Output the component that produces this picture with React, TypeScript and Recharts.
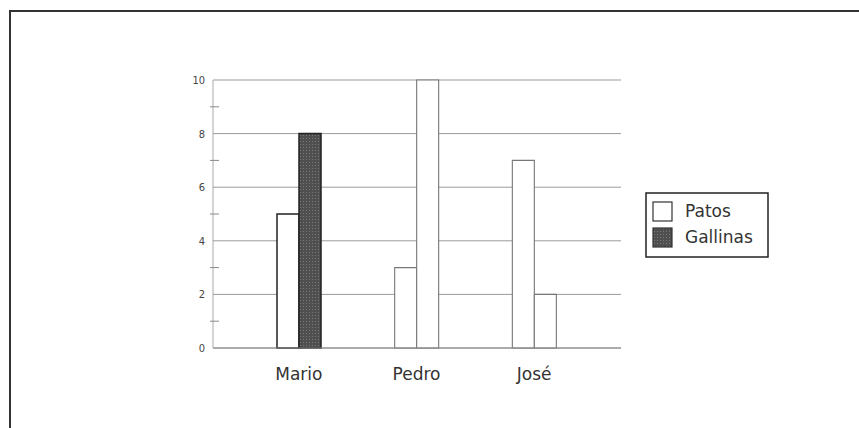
import { BarChart, Bar, XAxis, YAxis, CartesianGrid, Legend, Cell } from 'recharts';

const categories = ['Mario', 'Pedro', 'José'];
const patos = [5, 3, 7];
const gallinas = [8, 10, 2];
const yTicks = [0, 1, 2, 3, 4, 5, 6, 7, 8, 9, 10];
const gridValues = [0, 2, 4, 6, 8, 10];

const data = categories.map((name, i) => ({ name, patos: patos[i], gallinas: gallinas[i] }));

const font = "'DejaVu Sans', sans-serif";

function YTick(props: any) {
  const { x, y, payload } = props;
  const v = payload.value as number;
  if (v % 2 === 1) {
    return <line x1={x + 3} x2={x + 12} y1={y} y2={y} stroke="#888" strokeWidth={1} />;
  }
  return (
    <text
      x={x - 2}
      y={y}
      dy={4}
      textAnchor="end"
      fontSize={11}
      fill="#444"
      fontFamily="'Liberation Sans Narrow', 'DejaVu Sans Condensed', sans-serif"
    >
      {v}
    </text>
  );
}

function LegendBox() {
  const items = [
    { label: 'Patos', fill: '#fff' },
    { label: 'Gallinas', fill: 'url(#hatch)' },
  ];
  return (
    <svg width={125} height={67} style={{ display: 'block' }}>
      <rect x={1} y={1} width={122} height={64} fill="#fff" stroke="#222" strokeWidth={1.5} />
      {items.map((it, i) => (
        <g key={it.label}>
          <rect x={8} y={10 + i * 26} width={19} height={19} fill={it.fill} stroke="#333" strokeWidth={1.2} />
          <text x={40} y={25 + i * 26} fontSize={17} fill="#333" fontFamily={font}>
            {it.label}
          </text>
        </g>
      ))}
    </svg>
  );
}

export default function App() {
  return (
    <div style={{ position: 'absolute', left: 0, top: 0, width: 859, height: 428, background: '#fff' }}>
      <div
        style={{
          position: 'absolute',
          left: 9,
          top: 10,
          width: 850,
          height: 418,
          borderTop: '2px solid #333',
          borderLeft: '2px solid #333',
        }}
      />
      <div style={{ position: 'absolute', left: 0, top: 0 }}>
        <BarChart
          width={859}
          height={428}
          data={data}
          margin={{ top: 80, right: 113, left: 183, bottom: 35 }}
          barSize={22}
          barGap={0}
        >
          <defs>
            <pattern id="hatch" width="3" height="3" patternUnits="userSpaceOnUse">
              <rect width="3" height="3" fill="#4f4f4f" />
              <rect width="1" height="1" fill="#7a7a7a" />
            </pattern>
          </defs>
          <CartesianGrid horizontal vertical={false} horizontalValues={gridValues} stroke="#9a9a9a" />
          <XAxis
            dataKey="name"
            padding={{ left: 27, right: 28 }}
            axisLine={{ stroke: '#8a8a8a' }}
            tickLine={false}
            tickSize={0}
            tickMargin={20}
            height={45}
            tick={{ fontSize: 17, fill: '#333', fontFamily: font }}
          />
          <YAxis
            domain={[0, 10]}
            ticks={yTicks}
            interval={0}
            width={30}
            tickSize={0}
            tickMargin={6}
            tickLine={false}
            axisLine={{ stroke: '#aaa' }}
            tick={<YTick />}
          />
          <Legend
            layout="horizontal"
            verticalAlign="middle"
            align="right"
            content={<LegendBox />}
            wrapperStyle={{ position: 'absolute', left: 645, top: 192, width: 125, height: 67 }}
          />
          <Bar dataKey="patos" name="Patos" isAnimationActive={false}>
            {data.map((d, i) => (
              <Cell
                key={d.name}
                fill="#fff"
                stroke={i === 0 ? '#222' : '#777'}
                strokeWidth={i === 0 ? 1.5 : 1.1}
              />
            ))}
          </Bar>
          <Bar dataKey="gallinas" name="Gallinas" isAnimationActive={false}>
            {data.map((d, i) => (
              <Cell
                key={d.name}
                fill={i === 0 ? 'url(#hatch)' : '#fff'}
                stroke={i === 0 ? '#222' : '#777'}
                strokeWidth={i === 0 ? 1.5 : 1.1}
              />
            ))}
          </Bar>
        </BarChart>
      </div>
    </div>
  );
}
